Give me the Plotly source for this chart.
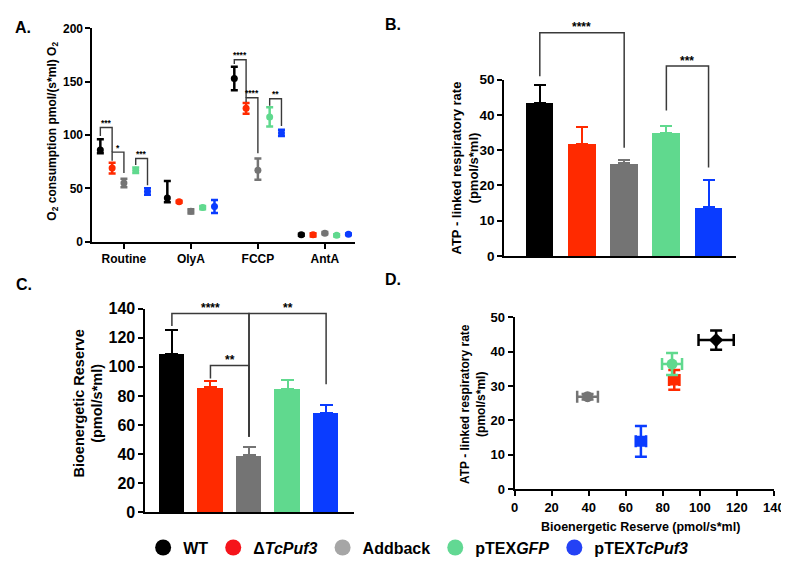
import plotly.graph_objects as go

W, H = 789, 567
FONT = "Liberation Sans, Arial, sans-serif"

# ---------------- data ----------------
groups = ["WT", "ΔTcPuf3", "Addback", "pTEXGFP", "pTEXTcPuf3"]
legend_labels = ["WT", "Δ<i>TcPuf3</i>", "Addback", "pTEX<i>GFP</i>", "pTEX<i>TcPuf3</i>"]
colors = ["#000000", "#FF2A00", "#747474", "#60D98E", "#0A3CFF"]
legend_colors = ["#000000", "#F5141B", "#A6A6A6", "#62D893", "#2442F5"]

# Panel A: O2 consumption per state (rows = groups, cols = states)
states = ["Routine", "OlyA", "FCCP", "AntA"]
a_mean = [[86, 41, 153, 6.5],
          [69, 37.5, 125, 6.5],
          [55, 28.5, 67, 8.0],
          [67, 32, 117, 6.0],
          [47, 33, 102, 7.0]]
a_up = [[10, 16, 11, 1.0],
        [5, 1, 5, 1.5],
        [4, 2, 11, 1.0],
        [2.5, 1.5, 9, 1.0],
        [3, 6, 3, 0.8]]
a_dn = [[3, 4, 11, 1.0],
        [5, 1, 5, 1.5],
        [4, 2, 9, 1.0],
        [2.5, 1.5, 9, 1.0],
        [3, 6, 3, 0.8]]
# significance: (state, group1, group2, top, left end, right end, label)
a_sig = [(0, 0, 1, 107, 99, 84, "***"),
         (0, 1, 2, 84, 76, 64.5, "*"),
         (0, 3, 4, 78, 72, 53, "***"),
         (2, 0, 1, 170.5, 166.5, 135, "****"),
         (2, 1, 2, 135, 131, 83, "****"),
         (2, 3, 4, 134, 127.5, 108.5, "**")]

# Panel B: ATP-linked respiratory rate
b_mean = [43.5, 31.8, 26.3, 34.9, 13.8]
b_err = [5.0, 4.9, 1.0, 2.0, 7.7]
b_sig = [(0, 2, 63.3, 51, 30.7, "****"),
         (3, 4, 53.9, 41.3, 25.1, "***")]

# Panel C: Bioenergetic reserve
c_mean = [108.9, 86.0, 39.3, 85.1, 68.2]
c_err = [16.5, 4.5, 5.8, 5.6, 5.6]
c_sig = [(0, 2, 136.7, 128, 52, "****"),
         (2, 4, 136.7, 52, 88, "**"),
         (1, 2, 101, 92, 52, "**")]

# Panel D: reserve vs ATP-linked rate
d_x = [108.8, 86.2, 39.4, 85.0, 68.2]
d_xerr = [9.5, 2.8, 5.6, 5.4, 2.8]
d_y = [43.4, 31.8, 26.9, 36.4, 13.9]
d_yerr = [2.8, 2.9, 0.8, 3.2, 4.5]
d_symbols = ["diamond", "square", "circle", "circle", "square"]

# ---------------- layout geometry (pixels) ----------------
panels = {
    "A": dict(x=(82, 350), y=(232.7, 12.7), xr=(-0.47, 3.455), yr=(0, 200)),
    "B": dict(x=(501.7, 738), y=(247.3, 65.7), xr=(-0.845, 4.65), yr=(0, 50)),
    "C": dict(x=(136, 348.3), y=(511.7, 301.7), xr=(-0.687, 4.715), yr=(0, 140)),
    "D": dict(x=(512.3, 776.7), y=(487.7, 310.7), xr=(0, 140), yr=(0, 50)),
}
a_offsets = [-0.352, -0.176, 0.0, 0.176, 0.352]


def px2paper_x(p):
    return p / W


def px2paper_y(p):
    return 1 - p / H


def dpx(panel, v):
    s = panels[panel]
    x0, x1 = s["x"]; r0, r1 = s["xr"]
    return px2paper_x(x0 + (v - r0) / (r1 - r0) * (x1 - x0))


def dpy(panel, v):
    s = panels[panel]
    y0, y1 = s["y"]; r0, r1 = s["yr"]
    return px2paper_y(y0 + (v - r0) / (r1 - r0) * (y1 - y0))


def dom(panel):
    s = panels[panel]
    return ([px2paper_x(s["x"][0]), px2paper_x(s["x"][1])],
            [px2paper_y(s["y"][0]), px2paper_y(s["y"][1])])


def axis(domain, rng, anchor, tsize, **kw):
    d = dict(domain=domain, range=list(rng), anchor=anchor, showline=True,
             linecolor="black", linewidth=2, ticks="outside", ticklen=5,
             tickwidth=2, tickcolor="black", showgrid=False, zeroline=False,
             fixedrange=True,
             tickfont=dict(family=FONT, size=tsize, color="black", weight="bold"))
    d.update(kw)
    return d


fig = go.Figure()

# Panel A traces
for g in range(5):
    fig.add_trace(go.Scatter(
        x=[i + a_offsets[g] for i in range(len(states))], y=a_mean[g],
        mode="markers", xaxis="x", yaxis="y", showlegend=False,
        marker=dict(color=colors[g], size=7),
        error_y=dict(type="data", symmetric=False, array=a_up[g], arrayminus=a_dn[g],
                     color=colors[g], thickness=2.5, width=3.5)))

# Panel B bars
for g in range(5):
    fig.add_trace(go.Bar(
        x=[g], y=[b_mean[g]], width=0.65, xaxis="x2", yaxis="y2", showlegend=False,
        marker=dict(color=colors[g], line=dict(width=0)),
        error_y=dict(type="data", symmetric=False, array=[b_err[g]], arrayminus=[0],
                     color=colors[g], thickness=2, width=6)))

# Panel C bars
for g in range(5):
    fig.add_trace(go.Bar(
        x=[g], y=[c_mean[g]], width=0.66, xaxis="x3", yaxis="y3", showlegend=False,
        marker=dict(color=colors[g], line=dict(width=0)),
        error_y=dict(type="data", symmetric=False, array=[c_err[g]], arrayminus=[0],
                     color=colors[g], thickness=2, width=6.5)))

# Panel D points
for g in range(5):
    fig.add_trace(go.Scatter(
        x=[d_x[g]], y=[d_y[g]], mode="markers", xaxis="x4", yaxis="y4", showlegend=False,
        marker=dict(color=colors[g], size=11, symbol=d_symbols[g]),
        error_x=dict(type="data", array=[d_xerr[g]], color=colors[g], thickness=2.5, width=6),
        error_y=dict(type="data", array=[d_yerr[g]], color=colors[g], thickness=2.5, width=6)))

# Legend entries
for g in range(5):
    fig.add_trace(go.Scatter(
        x=[None], y=[None], mode="markers", xaxis="x4", yaxis="y4",
        name=legend_labels[g], showlegend=True,
        marker=dict(color=legend_colors[g], size=16, symbol="circle")))

shapes = []
annotations = []
BR = "#3a3a3a"


def bracket(panel, x1, x2, top, yl, yr, label, lw, fs):
    path = (f"M {dpx(panel, x1)},{dpy(panel, yl)} L {dpx(panel, x1)},{dpy(panel, top)} "
            f"L {dpx(panel, x2)},{dpy(panel, top)} L {dpx(panel, x2)},{dpy(panel, yr)}")
    shapes.append(dict(type="path", path=path, xref="paper", yref="paper",
                       line=dict(color=BR, width=lw)))
    annotations.append(dict(x=dpx(panel, (x1 + x2) / 2), y=dpy(panel, top), xref="paper",
                            yref="paper", text=label, showarrow=False, xanchor="center",
                            yanchor="bottom", yshift=-0.3 * fs,
                            font=dict(family=FONT, size=fs, color="black", weight="bold")))


for s_i, g1, g2, top, yl, yr, lab in a_sig:
    bracket("A", s_i + a_offsets[g1], s_i + a_offsets[g2], top, yl, yr, lab, 1.4, 8.5)
for g1, g2, top, yl, yr, lab in b_sig:
    bracket("B", g1, g2, top, yl, yr, lab, 1.5, 12)
for g1, g2, top, yl, yr, lab in c_sig:
    bracket("C", g1, g2, top, yl, yr, lab, 1.5, 12)


def text(xp, yp, s, size, angle=0, xanchor="center", yanchor="middle"):
    annotations.append(dict(x=px2paper_x(xp), y=px2paper_y(yp), xref="paper", yref="paper",
                            text=s, showarrow=False, textangle=angle, xanchor=xanchor,
                            yanchor=yanchor,
                            font=dict(family=FONT, size=size, color="black", weight="bold")))


# panel letters
text(11, 12, "A.", 16)
text(388, 9, "B.", 16)
text(12, 277, "C.", 16)
text(388, 272, "D.", 16)

# axis titles
text(42, 119, "O<sub>2</sub> consumption pmol/(s*ml) O<sub>2</sub>", 12, angle=-90)
text(462, 157, "ATP - linked respiratory rate<br>(pmol/s*ml)", 13, angle=-90)
text(77, 400, "Bioenergetic Reserve<br>(pmol/s*ml)", 14.5, angle=-90)
text(470, 400, "ATP - linked respiratory rate<br>(pmol/s*ml)", 12, angle=-90)
text(641, 527, "Bioenergetic Reserve (pmol/s*ml)", 12.5)

ax, ay = dom("A")
bx, by = dom("B")
cx, cy = dom("C")
dx, dy = dom("D")

fig.update_layout(
    width=W, height=H, margin=dict(l=0, r=0, t=0, b=0),
    paper_bgcolor="white", plot_bgcolor="white",
    font=dict(family=FONT, color="black"),
    barmode="overlay", bargap=0,
    xaxis=axis(ax, panels["A"]["xr"], "y", 12, tickvals=list(range(len(states))), ticktext=states),
    yaxis=axis(ay, panels["A"]["yr"], "x", 12, tickvals=[0, 50, 100, 150, 200]),
    xaxis2=axis(bx, panels["B"]["xr"], "y2", 12, ticks="", showticklabels=False),
    yaxis2=axis(by, panels["B"]["yr"], "x2", 13.5, tickvals=[0, 10, 20, 30, 40, 50]),
    xaxis3=axis(cx, panels["C"]["xr"], "y3", 12, ticks="", showticklabels=False),
    yaxis3=axis(cy, panels["C"]["yr"], "x3", 16, tickvals=list(range(0, 141, 20))),
    xaxis4=axis(dx, panels["D"]["xr"], "y4", 13, tickvals=list(range(0, 141, 20))),
    yaxis4=axis(dy, panels["D"]["yr"], "x4", 13, tickvals=[0, 10, 20, 30, 40, 50]),
    legend=dict(orientation="h", x=414 / W, xanchor="center", y=1 - 548 / H, yanchor="middle",
                font=dict(family=FONT, size=16, color="black", weight="bold"),
                itemwidth=30, bgcolor="rgba(0,0,0,0)"),
    shapes=shapes, annotations=annotations,
)

fig.write_html("out.html")
